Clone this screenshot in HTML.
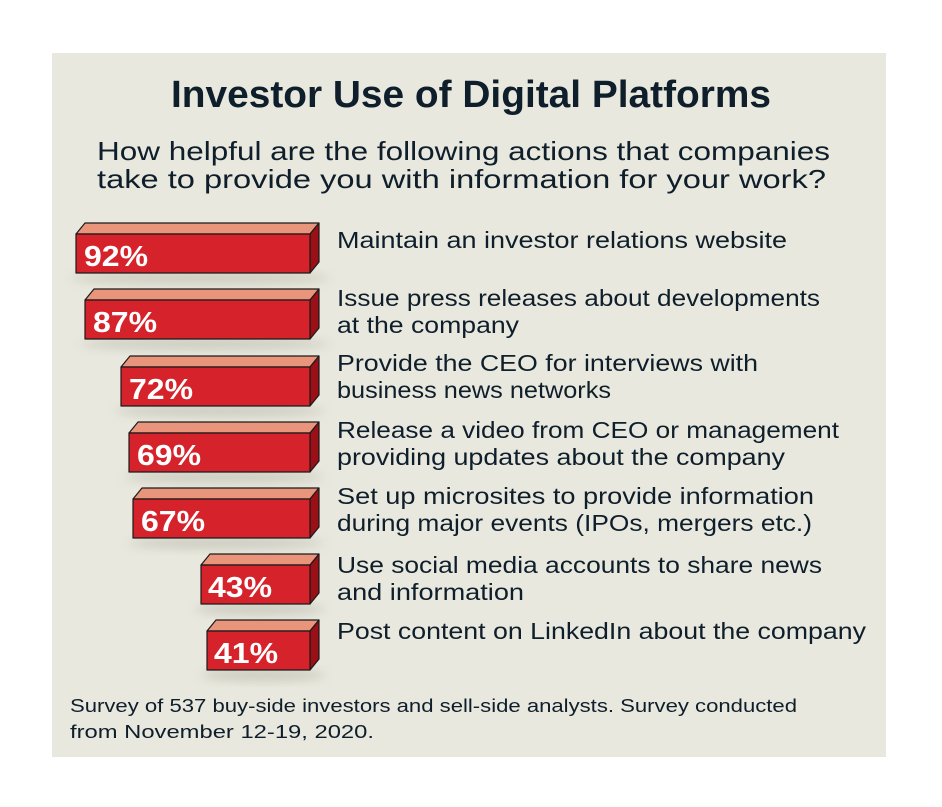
<!DOCTYPE html>
<html><head><style>
body{margin:0;background:#fff;}
svg{display:block;}
</style></head><body>
<svg width="942" height="807" xmlns="http://www.w3.org/2000/svg" font-family="Liberation Sans, sans-serif">
<defs>
<filter id="sh" x="-10%" y="-30%" width="130%" height="180%"><feGaussianBlur stdDeviation="5"/></filter>
</defs>
<rect x="52" y="53" width="834" height="704" fill="#e8e8de"/>
<text x="471" y="107" text-anchor="middle" font-size="38" font-weight="bold" fill="#0f1e2b" textLength="600" lengthAdjust="spacingAndGlyphs">Investor Use of Digital Platforms</text>
<text x="97" y="160" font-size="26" fill="#0f1e2b" textLength="733" lengthAdjust="spacingAndGlyphs">How helpful are the following actions that companies</text>
<text x="97" y="188" font-size="26" fill="#0f1e2b" textLength="729" lengthAdjust="spacingAndGlyphs">take to provide you with information for your work?</text>
<g font-size="23" fill="#0f1e2b">
<text x="337" y="248" textLength="450" lengthAdjust="spacingAndGlyphs">Maintain an investor relations website</text>
<text x="337" y="306" textLength="483" lengthAdjust="spacingAndGlyphs">Issue press releases about developments</text>
<text x="337" y="333" textLength="182" lengthAdjust="spacingAndGlyphs">at the company</text>
<text x="337" y="371" textLength="421" lengthAdjust="spacingAndGlyphs">Provide the CEO for interviews with</text>
<text x="337" y="398" textLength="274" lengthAdjust="spacingAndGlyphs">business news networks</text>
<text x="337" y="438" textLength="502" lengthAdjust="spacingAndGlyphs">Release a video from CEO or management</text>
<text x="337" y="465" textLength="448" lengthAdjust="spacingAndGlyphs">providing updates about the company</text>
<text x="337" y="504" textLength="477" lengthAdjust="spacingAndGlyphs">Set up microsites to provide information</text>
<text x="337" y="531" textLength="475" lengthAdjust="spacingAndGlyphs">during major events (IPOs, mergers etc.)</text>
<text x="337" y="573" textLength="485" lengthAdjust="spacingAndGlyphs">Use social media accounts to share news</text>
<text x="337" y="600" textLength="187" lengthAdjust="spacingAndGlyphs">and information</text>
<text x="337" y="639" textLength="529" lengthAdjust="spacingAndGlyphs">Post content on LinkedIn about the company</text>
</g>
<g font-size="18" fill="#0f1e2b">
<text x="70" y="712" textLength="727" lengthAdjust="spacingAndGlyphs">Survey of 537 buy-side investors and sell-side analysts. Survey conducted</text>
<text x="70" y="738" textLength="304" lengthAdjust="spacingAndGlyphs">from November 12-19, 2020.</text>
</g>
<g stroke="#1a1a1a" stroke-width="1.2" stroke-linejoin="round">
<g transform="translate(0,0)">
<ellipse cx="200" cy="278" rx="130" ry="6" fill="#b9b9ad" opacity="0.6" filter="url(#sh)" stroke="none"/>
<polygon points="76,234 85,223 319,223 310,234" fill="#e8957c"/>
<polygon points="310,234 319,223 319,262 310,273" fill="#9a1016"/>
<rect x="76" y="234" width="234" height="39" fill="#d6222a"/>
<text x="84" y="266" font-size="29" font-weight="bold" fill="#fff" stroke="none" textLength="64" lengthAdjust="spacingAndGlyphs">92%</text>
</g>
<g transform="translate(0,66)">
<ellipse cx="205" cy="278" rx="125" ry="6" fill="#b9b9ad" opacity="0.6" filter="url(#sh)" stroke="none"/>
<polygon points="85,234 94,223 319,223 310,234" fill="#e8957c"/>
<polygon points="310,234 319,223 319,262 310,273" fill="#9a1016"/>
<rect x="85" y="234" width="225" height="39" fill="#d6222a"/>
<text x="93" y="266" font-size="29" font-weight="bold" fill="#fff" stroke="none" textLength="64" lengthAdjust="spacingAndGlyphs">87%</text>
</g>
<g transform="translate(0,133)">
<ellipse cx="220" cy="278" rx="105" ry="6" fill="#b9b9ad" opacity="0.6" filter="url(#sh)" stroke="none"/>
<polygon points="121,234 130,223 319,223 310,234" fill="#e8957c"/>
<polygon points="310,234 319,223 319,262 310,273" fill="#9a1016"/>
<rect x="121" y="234" width="189" height="39" fill="#d6222a"/>
<text x="129" y="266" font-size="29" font-weight="bold" fill="#fff" stroke="none" textLength="64" lengthAdjust="spacingAndGlyphs">72%</text>
</g>
<g transform="translate(0,199)">
<ellipse cx="224" cy="278" rx="100" ry="6" fill="#b9b9ad" opacity="0.6" filter="url(#sh)" stroke="none"/>
<polygon points="129,234 138,223 319,223 310,234" fill="#e8957c"/>
<polygon points="310,234 319,223 319,262 310,273" fill="#9a1016"/>
<rect x="129" y="234" width="181" height="39" fill="#d6222a"/>
<text x="137" y="266" font-size="29" font-weight="bold" fill="#fff" stroke="none" textLength="64" lengthAdjust="spacingAndGlyphs">69%</text>
</g>
<g transform="translate(0,265)">
<ellipse cx="226" cy="278" rx="98" ry="6" fill="#b9b9ad" opacity="0.6" filter="url(#sh)" stroke="none"/>
<polygon points="133,234 142,223 319,223 310,234" fill="#e8957c"/>
<polygon points="310,234 319,223 319,262 310,273" fill="#9a1016"/>
<rect x="133" y="234" width="177" height="39" fill="#d6222a"/>
<text x="141" y="266" font-size="29" font-weight="bold" fill="#fff" stroke="none" textLength="64" lengthAdjust="spacingAndGlyphs">67%</text>
</g>
<g transform="translate(0,331)">
<ellipse cx="260" cy="278" rx="65" ry="6" fill="#b9b9ad" opacity="0.6" filter="url(#sh)" stroke="none"/>
<polygon points="201,234 210,223 319,223 310,234" fill="#e8957c"/>
<polygon points="310,234 319,223 319,262 310,273" fill="#9a1016"/>
<rect x="201" y="234" width="109" height="39" fill="#d6222a"/>
<text x="208" y="266" font-size="29" font-weight="bold" fill="#fff" stroke="none" textLength="64" lengthAdjust="spacingAndGlyphs">43%</text>
</g>
<g transform="translate(0,397)">
<ellipse cx="263" cy="278" rx="62" ry="6" fill="#b9b9ad" opacity="0.6" filter="url(#sh)" stroke="none"/>
<polygon points="207,234 216,223 319,223 310,234" fill="#e8957c"/>
<polygon points="310,234 319,223 319,262 310,273" fill="#9a1016"/>
<rect x="207" y="234" width="103" height="39" fill="#d6222a"/>
<text x="214" y="266" font-size="29" font-weight="bold" fill="#fff" stroke="none" textLength="64" lengthAdjust="spacingAndGlyphs">41%</text>
</g>
</g>
</svg>
</body></html>
